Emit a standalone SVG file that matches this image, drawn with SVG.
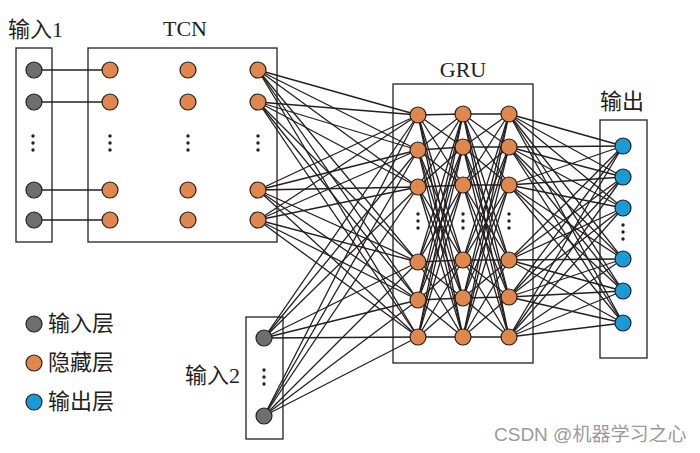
<svg xmlns="http://www.w3.org/2000/svg" width="700" height="453" viewBox="0 0 700 453">
<style>
.box{fill:none;stroke:#231f20;stroke-width:1.3}
.n{stroke:#231f20;stroke-width:1.2}
.in{fill:#6d6e71}
.hid{fill:#e0874d}
.out{fill:#1c9ad6}
.e line{stroke:#231f20;stroke-width:1.3}
.dot{fill:#231f20}
.lbl{font-family:"Liberation Serif","Noto Sans CJK SC",serif;font-size:22px;fill:#231f20}
.wm{font-family:"Liberation Sans","Noto Sans CJK SC",sans-serif;font-size:19px;fill:#9a9a9a}
</style>
<defs>
<g id="vd"><circle cx="0" cy="-7" r="1.7"/><circle cx="0" cy="0" r="1.7"/><circle cx="0" cy="7" r="1.7"/></g>
</defs>
<rect width="700" height="453" fill="#fff"/>

<!-- containers -->
<g id="box-input1"><rect class="box" x="16" y="48" width="36" height="194"/><text class="lbl" x="8" y="37">输入1</text></g>
<g id="box-tcn"><rect class="box" x="88" y="48" width="189" height="194"/><text class="lbl" x="185" y="36" text-anchor="middle">TCN</text></g>
<g id="box-gru"><rect class="box" x="393" y="84" width="140" height="279"/><text class="lbl" x="463" y="77" text-anchor="middle">GRU</text></g>
<g id="box-output"><rect class="box" x="600" y="120" width="47" height="238"/><text class="lbl" x="622" y="109" text-anchor="middle">输出</text></g>
<g id="box-input2"><rect class="box" x="246" y="317" width="37" height="122"/><text class="lbl" x="240" y="383" text-anchor="end">输入2</text></g>

<!-- connectors -->
<g id="connectors" class="e">
<!-- input1 -> TCN -->
<line x1="34" y1="70" x2="110" y2="70"/><line x1="34" y1="102" x2="110" y2="102"/><line x1="34" y1="190" x2="110" y2="190"/><line x1="34" y1="220" x2="110" y2="220"/>
<!-- TCN col3 -> GRU col1 -->
<line x1="258" y1="70" x2="418" y2="115"/><line x1="258" y1="70" x2="418" y2="150"/><line x1="258" y1="70" x2="418" y2="187"/><line x1="258" y1="70" x2="418" y2="262"/><line x1="258" y1="70" x2="418" y2="300"/><line x1="258" y1="70" x2="418" y2="337"/>
<line x1="258" y1="102" x2="418" y2="115"/><line x1="258" y1="102" x2="418" y2="150"/><line x1="258" y1="102" x2="418" y2="187"/><line x1="258" y1="102" x2="418" y2="262"/><line x1="258" y1="102" x2="418" y2="300"/><line x1="258" y1="102" x2="418" y2="337"/>
<line x1="258" y1="190" x2="418" y2="115"/><line x1="258" y1="190" x2="418" y2="150"/><line x1="258" y1="190" x2="418" y2="187"/><line x1="258" y1="190" x2="418" y2="262"/><line x1="258" y1="190" x2="418" y2="300"/><line x1="258" y1="190" x2="418" y2="337"/>
<line x1="258" y1="220" x2="418" y2="115"/><line x1="258" y1="220" x2="418" y2="150"/><line x1="258" y1="220" x2="418" y2="187"/><line x1="258" y1="220" x2="418" y2="262"/><line x1="258" y1="220" x2="418" y2="300"/><line x1="258" y1="220" x2="418" y2="337"/>
<!-- input2 -> GRU col1 -->
<line x1="264" y1="338" x2="418" y2="115"/><line x1="264" y1="338" x2="418" y2="150"/><line x1="264" y1="338" x2="418" y2="187"/><line x1="264" y1="338" x2="418" y2="262"/><line x1="264" y1="338" x2="418" y2="300"/><line x1="264" y1="338" x2="418" y2="337"/>
<line x1="264" y1="416" x2="418" y2="115"/><line x1="264" y1="416" x2="418" y2="150"/><line x1="264" y1="416" x2="418" y2="187"/><line x1="264" y1="416" x2="418" y2="262"/><line x1="264" y1="416" x2="418" y2="300"/><line x1="264" y1="416" x2="418" y2="337"/>
<!-- GRU col1 -> col2 -->
<line x1="418" y1="115" x2="463" y2="114"/><line x1="418" y1="115" x2="463" y2="147"/><line x1="418" y1="115" x2="463" y2="185"/><line x1="418" y1="115" x2="463" y2="260"/><line x1="418" y1="115" x2="463" y2="298"/><line x1="418" y1="115" x2="463" y2="337"/>
<line x1="418" y1="150" x2="463" y2="114"/><line x1="418" y1="150" x2="463" y2="147"/><line x1="418" y1="150" x2="463" y2="185"/><line x1="418" y1="150" x2="463" y2="260"/><line x1="418" y1="150" x2="463" y2="298"/><line x1="418" y1="150" x2="463" y2="337"/>
<line x1="418" y1="187" x2="463" y2="114"/><line x1="418" y1="187" x2="463" y2="147"/><line x1="418" y1="187" x2="463" y2="185"/><line x1="418" y1="187" x2="463" y2="260"/><line x1="418" y1="187" x2="463" y2="298"/><line x1="418" y1="187" x2="463" y2="337"/>
<line x1="418" y1="262" x2="463" y2="114"/><line x1="418" y1="262" x2="463" y2="147"/><line x1="418" y1="262" x2="463" y2="185"/><line x1="418" y1="262" x2="463" y2="260"/><line x1="418" y1="262" x2="463" y2="298"/><line x1="418" y1="262" x2="463" y2="337"/>
<line x1="418" y1="300" x2="463" y2="114"/><line x1="418" y1="300" x2="463" y2="147"/><line x1="418" y1="300" x2="463" y2="185"/><line x1="418" y1="300" x2="463" y2="260"/><line x1="418" y1="300" x2="463" y2="298"/><line x1="418" y1="300" x2="463" y2="337"/>
<line x1="418" y1="337" x2="463" y2="114"/><line x1="418" y1="337" x2="463" y2="147"/><line x1="418" y1="337" x2="463" y2="185"/><line x1="418" y1="337" x2="463" y2="260"/><line x1="418" y1="337" x2="463" y2="298"/><line x1="418" y1="337" x2="463" y2="337"/>
<!-- GRU col2 -> col3 -->
<line x1="463" y1="114" x2="509" y2="114"/><line x1="463" y1="114" x2="509" y2="147"/><line x1="463" y1="114" x2="509" y2="185"/><line x1="463" y1="114" x2="509" y2="260"/><line x1="463" y1="114" x2="509" y2="297"/><line x1="463" y1="114" x2="509" y2="337"/>
<line x1="463" y1="147" x2="509" y2="114"/><line x1="463" y1="147" x2="509" y2="147"/><line x1="463" y1="147" x2="509" y2="185"/><line x1="463" y1="147" x2="509" y2="260"/><line x1="463" y1="147" x2="509" y2="297"/><line x1="463" y1="147" x2="509" y2="337"/>
<line x1="463" y1="185" x2="509" y2="114"/><line x1="463" y1="185" x2="509" y2="147"/><line x1="463" y1="185" x2="509" y2="185"/><line x1="463" y1="185" x2="509" y2="260"/><line x1="463" y1="185" x2="509" y2="297"/><line x1="463" y1="185" x2="509" y2="337"/>
<line x1="463" y1="260" x2="509" y2="114"/><line x1="463" y1="260" x2="509" y2="147"/><line x1="463" y1="260" x2="509" y2="185"/><line x1="463" y1="260" x2="509" y2="260"/><line x1="463" y1="260" x2="509" y2="297"/><line x1="463" y1="260" x2="509" y2="337"/>
<line x1="463" y1="298" x2="509" y2="114"/><line x1="463" y1="298" x2="509" y2="147"/><line x1="463" y1="298" x2="509" y2="185"/><line x1="463" y1="298" x2="509" y2="260"/><line x1="463" y1="298" x2="509" y2="297"/><line x1="463" y1="298" x2="509" y2="337"/>
<line x1="463" y1="337" x2="509" y2="114"/><line x1="463" y1="337" x2="509" y2="147"/><line x1="463" y1="337" x2="509" y2="185"/><line x1="463" y1="337" x2="509" y2="260"/><line x1="463" y1="337" x2="509" y2="297"/><line x1="463" y1="337" x2="509" y2="337"/>
<!-- GRU col3 -> output -->
<line x1="509" y1="114" x2="623" y2="146"/><line x1="509" y1="114" x2="623" y2="177"/><line x1="509" y1="114" x2="623" y2="208"/><line x1="509" y1="114" x2="623" y2="259"/><line x1="509" y1="114" x2="623" y2="291"/><line x1="509" y1="114" x2="623" y2="323"/>
<line x1="509" y1="147" x2="623" y2="146"/><line x1="509" y1="147" x2="623" y2="177"/><line x1="509" y1="147" x2="623" y2="208"/><line x1="509" y1="147" x2="623" y2="259"/><line x1="509" y1="147" x2="623" y2="291"/><line x1="509" y1="147" x2="623" y2="323"/>
<line x1="509" y1="185" x2="623" y2="146"/><line x1="509" y1="185" x2="623" y2="177"/><line x1="509" y1="185" x2="623" y2="208"/><line x1="509" y1="185" x2="623" y2="259"/><line x1="509" y1="185" x2="623" y2="291"/><line x1="509" y1="185" x2="623" y2="323"/>
<line x1="509" y1="260" x2="623" y2="146"/><line x1="509" y1="260" x2="623" y2="177"/><line x1="509" y1="260" x2="623" y2="208"/><line x1="509" y1="260" x2="623" y2="259"/><line x1="509" y1="260" x2="623" y2="291"/><line x1="509" y1="260" x2="623" y2="323"/>
<line x1="509" y1="297" x2="623" y2="146"/><line x1="509" y1="297" x2="623" y2="177"/><line x1="509" y1="297" x2="623" y2="208"/><line x1="509" y1="297" x2="623" y2="259"/><line x1="509" y1="297" x2="623" y2="291"/><line x1="509" y1="297" x2="623" y2="323"/>
<line x1="509" y1="337" x2="623" y2="146"/><line x1="509" y1="337" x2="623" y2="177"/><line x1="509" y1="337" x2="623" y2="208"/><line x1="509" y1="337" x2="623" y2="259"/><line x1="509" y1="337" x2="623" y2="291"/><line x1="509" y1="337" x2="623" y2="323"/>
</g>

<!-- ellipsis dots -->
<g id="dots" class="dot">
<use href="#vd" x="33" y="143"/><use href="#vd" x="110" y="143"/><use href="#vd" x="188" y="143"/><use href="#vd" x="258" y="143"/>
<use href="#vd" x="418" y="221"/><use href="#vd" x="463" y="221"/><use href="#vd" x="509" y="221"/>
<use href="#vd" x="623" y="232"/><use href="#vd" x="264" y="377"/>
</g>

<!-- input1 nodes -->
<g id="in1-1"><circle class="n in" cx="34" cy="70" r="8"/></g>
<g id="in1-2"><circle class="n in" cx="34" cy="102" r="8"/></g>
<g id="in1-3"><circle class="n in" cx="34" cy="190" r="8"/></g>
<g id="in1-4"><circle class="n in" cx="34" cy="220" r="8"/></g>
<!-- TCN nodes -->
<g id="tcn-1-1"><circle class="n hid" cx="110" cy="70" r="8"/></g>
<g id="tcn-1-2"><circle class="n hid" cx="110" cy="102" r="8"/></g>
<g id="tcn-1-3"><circle class="n hid" cx="110" cy="190" r="8"/></g>
<g id="tcn-1-4"><circle class="n hid" cx="110" cy="220" r="8"/></g>
<g id="tcn-2-1"><circle class="n hid" cx="188" cy="70" r="8"/></g>
<g id="tcn-2-2"><circle class="n hid" cx="188" cy="102" r="8"/></g>
<g id="tcn-2-3"><circle class="n hid" cx="188" cy="190" r="8"/></g>
<g id="tcn-2-4"><circle class="n hid" cx="188" cy="220" r="8"/></g>
<g id="tcn-3-1"><circle class="n hid" cx="258" cy="70" r="8"/></g>
<g id="tcn-3-2"><circle class="n hid" cx="258" cy="102" r="8"/></g>
<g id="tcn-3-3"><circle class="n hid" cx="258" cy="190" r="8"/></g>
<g id="tcn-3-4"><circle class="n hid" cx="258" cy="220" r="8"/></g>
<!-- GRU nodes -->
<g id="gru-1-1"><circle class="n hid" cx="418" cy="115" r="8"/></g>
<g id="gru-1-2"><circle class="n hid" cx="418" cy="150" r="8"/></g>
<g id="gru-1-3"><circle class="n hid" cx="418" cy="187" r="8"/></g>
<g id="gru-1-4"><circle class="n hid" cx="418" cy="262" r="8"/></g>
<g id="gru-1-5"><circle class="n hid" cx="418" cy="300" r="8"/></g>
<g id="gru-1-6"><circle class="n hid" cx="418" cy="337" r="8"/></g>
<g id="gru-2-1"><circle class="n hid" cx="463" cy="114" r="8"/></g>
<g id="gru-2-2"><circle class="n hid" cx="463" cy="147" r="8"/></g>
<g id="gru-2-3"><circle class="n hid" cx="463" cy="185" r="8"/></g>
<g id="gru-2-4"><circle class="n hid" cx="463" cy="260" r="8"/></g>
<g id="gru-2-5"><circle class="n hid" cx="463" cy="298" r="8"/></g>
<g id="gru-2-6"><circle class="n hid" cx="463" cy="337" r="8"/></g>
<g id="gru-3-1"><circle class="n hid" cx="509" cy="114" r="8"/></g>
<g id="gru-3-2"><circle class="n hid" cx="509" cy="147" r="8"/></g>
<g id="gru-3-3"><circle class="n hid" cx="509" cy="185" r="8"/></g>
<g id="gru-3-4"><circle class="n hid" cx="509" cy="260" r="8"/></g>
<g id="gru-3-5"><circle class="n hid" cx="509" cy="297" r="8"/></g>
<g id="gru-3-6"><circle class="n hid" cx="509" cy="337" r="8"/></g>
<!-- output nodes -->
<g id="out-1"><circle class="n out" cx="623" cy="146" r="8"/></g>
<g id="out-2"><circle class="n out" cx="623" cy="177" r="8"/></g>
<g id="out-3"><circle class="n out" cx="623" cy="208" r="8"/></g>
<g id="out-4"><circle class="n out" cx="623" cy="259" r="8"/></g>
<g id="out-5"><circle class="n out" cx="623" cy="291" r="8"/></g>
<g id="out-6"><circle class="n out" cx="623" cy="323" r="8"/></g>
<!-- input2 nodes -->
<g id="in2-1"><circle class="n in" cx="264" cy="338" r="8"/></g>
<g id="in2-2"><circle class="n in" cx="264" cy="416" r="8"/></g>

<!-- legend -->
<g id="legend">
<g id="legend-input"><circle class="n in" cx="34" cy="324" r="8"/><text class="lbl" x="48" y="331">输入层</text></g>
<g id="legend-hidden"><circle class="n hid" cx="34" cy="363" r="8"/><text class="lbl" x="48" y="370">隐藏层</text></g>
<g id="legend-output"><circle class="n out" cx="34" cy="402" r="8"/><text class="lbl" x="48" y="409">输出层</text></g>
</g>

<text class="wm" x="494" y="441">CSDN @机器学习之心</text>
</svg>
